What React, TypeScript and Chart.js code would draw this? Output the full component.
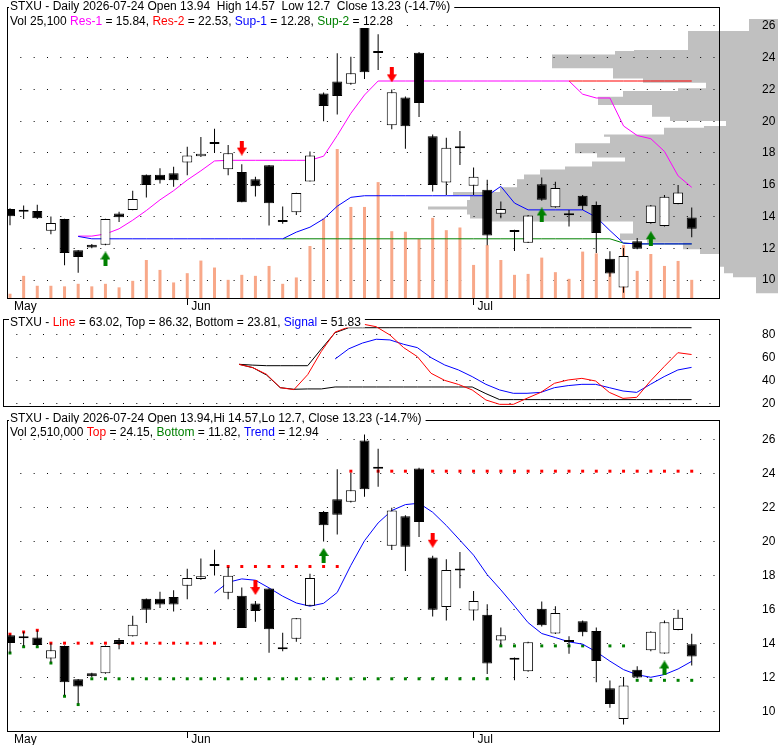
import React, { useEffect, useRef } from 'react';
import { Chart, registerables } from 'chart.js';

Chart.register(...registerables);

const FONT_FAMILY = '"Liberation Sans", Arial, Helvetica, sans-serif';
const CSS_FONT = '12px ' + FONT_FAMILY;

const symbol = 'STXU';
const lastDate = '2026-07-24';

// ---------- daily OHLC / volume (2026-05-12 .. 2026-07-24) ----------
const opens = [14.48, 14.36, 14.35, 13.10, 13.85, 11.88, 12.23, 12.23, 14.19, 14.42, 16.63, 16.63, 16.73, 17.40, 17.79, 18.62, 16.98, 16.81, 16.35, 17.23, 13.70, 14.27, 16.21, 21.75, 22.50, 22.35, 25.96, 24.36, 19.75, 21.50, 24.31, 19.06, 16.15, 18.36, 15.94, 15.69, 14.17, 13.08, 12.35, 16.04, 14.58, 14.12, 15.31, 14.73, 11.35, 9.54, 12.44, 13.60, 13.40, 14.79, 13.94];
const highs = [14.52, 14.69, 14.75, 14.00, 13.87, 11.90, 12.27, 13.87, 14.31, 15.63, 16.65, 17.04, 17.13, 18.40, 19.00, 19.52, 18.50, 17.29, 16.50, 17.25, 14.63, 15.50, 18.10, 21.80, 24.27, 24.06, 26.31, 25.48, 22.00, 21.55, 24.35, 19.17, 18.96, 19.38, 17.08, 16.31, 14.94, 13.17, 14.10, 16.46, 16.19, 14.42, 15.35, 14.94, 11.81, 12.02, 12.65, 14.72, 15.35, 15.98, 14.57];
const lows = [13.45, 13.85, 13.85, 12.88, 10.94, 10.46, 12.00, 12.20, 13.65, 14.40, 15.20, 16.08, 15.88, 16.60, 17.75, 18.00, 16.60, 14.90, 15.27, 13.44, 13.54, 14.10, 16.20, 20.00, 20.42, 22.30, 22.65, 23.23, 19.50, 18.27, 20.27, 15.58, 15.35, 17.25, 15.35, 12.19, 13.90, 11.83, 12.33, 15.00, 14.55, 13.38, 14.42, 11.71, 10.21, 9.21, 11.94, 13.54, 13.38, 14.77, 12.70];
const closes = [14.02, 14.30, 13.90, 13.60, 11.71, 11.46, 12.06, 13.85, 13.96, 15.10, 15.98, 16.29, 16.29, 17.85, 17.96, 18.56, 17.98, 14.90, 15.90, 14.83, 13.65, 15.48, 17.85, 20.96, 21.58, 23.02, 23.08, 24.30, 21.83, 19.69, 21.15, 15.98, 18.33, 18.30, 16.50, 12.81, 14.48, 13.03, 14.06, 15.06, 15.79, 14.08, 14.65, 12.96, 10.42, 11.52, 11.98, 14.69, 15.25, 15.51, 13.23];
const volumes = [5900, 30600, 16900, 16900, 16100, 19600, 16100, 19600, 14700, 23700, 52500, 38800, 21500, 34300, 51700, 42100, 25100, 32000, 30600, 44300, 19600, 28400, 71800, 109800, 205800, 125800, 125800, 160100, 92300, 91500, 81400, 110700, 93700, 97400, 45700, 73100, 52500, 32000, 33300, 55800, 35700, 26500, 64100, 61700, 39800, 73100, 37500, 60800, 44300, 51200, 25100];
const bottomHeaderVolume = 2510000;

// ---------- axes ----------
const monthStartIdx = [0, 13, 34];
const monthLabels = ['May', 'Jun', 'Jul'];
const priceTicks = [10, 12, 14, 16, 18, 20, 22, 24, 26];
const oscTicks = [20, 40, 60, 80];

// ---------- top panel: support / resistance ----------
const res1Start = 5;
const res1 = [
  12.77, 12.77, 12.9, 13.23, 13.77,
  14.38, 15.05, 15.63, 16.3, 16.88,
  17.5, 17.54, 17.54, 17.54, 17.54,
  17.54, 17.54, 17.54, 17.8, 19.1,
  20.5, 21.65, 22.53, 22.53, 22.53,
  22.53, 22.53, 22.53, 22.53, 22.53,
  22.53, 22.53, 22.53, 22.53, 22.53,
  22.53, 22.53, 21.7, 21.46, 21.46,
  19.7, 19.1, 18.9, 18.1, 16.56,
  15.84,
];
const res2Start = 41;
const res2 = [22.53, 22.53, 22.53, 22.53, 22.53, 22.53, 22.53, 22.53, 22.53, 22.53];
const sup1Start = 5;
const sup1 = [
  12.75, 12.6, 12.6, 12.6, 12.6,
  12.6, 12.6, 12.6, 12.6, 12.6,
  12.6, 12.6, 12.6, 12.6, 12.6,
  12.6, 13.02, 13.33, 13.85, 14.65,
  15.21, 15.31, 15.31, 15.31, 15.31,
  15.31, 15.31, 15.31, 15.31, 15.31,
  15.31, 15.9, 14.85, 14.42, 14.42,
  14.42, 14.42, 14.42, 13.96, 13.12,
  12.33, 12.28, 12.28, 12.28, 12.28,
  12.28,
];
const sup2Start = 20;
const sup2 = [
  12.6, 12.6, 12.6, 12.6, 12.6,
  12.6, 12.6, 12.6, 12.6, 12.6,
  12.6, 12.6, 12.6, 12.6, 12.6,
  12.6, 12.6, 12.6, 12.6, 12.6,
  12.6, 12.6, 12.6, 12.6, 12.6,
  12.33, 12.28, 12.28, 12.28, 12.28,
  12.28,
];
const priceBuyIdx = [7, 39, 47];
const priceBuyAt = [11.33, 14.1, 12.6];
const priceSellIdx = [17, 28];
const priceSellAt = [18.31, 22.92];

// volume-at-price profile (bin lower bound, volume in k)
const profileLow = [9.17, 10.17, 10.42, 10.83, 11.62, 11.92, 12.33, 12.5, 12.9, 13.65, 13.85, 14.1, 14.4, 14.6, 15.0, 15.3, 15.5, 15.8, 16.3, 16.6, 16.9, 17.1, 17.4, 17.65, 17.92, 18.54, 18.96, 19.1, 19.52, 19.625, 19.94, 20.21, 20.94, 21.46, 21.81, 21.98, 22.33, 22.6, 23.23, 24.1, 24.31, 24.375, 25.56];
const profileVol = [22, 45, 54, 58, 78, 95, 131, 158, 145, 288, 308, 311, 350, 311, 308, 325, 278, 261, 254, 238, 213, 186, 153, 181, 203, 168, 174, 114, 74, 52, 108, 126, 180, 155, 100, 72, 135, 165, 226, 163, 144, 90, 29];
const profileTop = 26.31;

// ---------- middle panel: oscillator ----------
const oscStart = 17;
const oscLine = [
  54.5, 51.6, 45.8, 34.2, 32.5,
  45.5, 65.8, 82.5, 87, 89.5,
  87.2, 80, 69, 61.2, 46.7,
  40.5, 37, 32.2, 23.5, 19.7,
  19.7, 25, 30.1, 38, 40.9,
  42.3, 40, 30.1, 24.9, 25.8,
  40, 52.5, 64.6, 63.02,
];
const oscTop = [
  54.5, 53.8, 53.3, 53.3, 53.3,
  53.3, 67.9, 82, 86.32, 86.32,
  86.32, 86.32, 86.32, 86.32, 86.32,
  86.32, 86.32, 86.32, 86.32, 86.32,
  86.32, 86.32, 86.32, 86.32, 86.32,
  86.32, 86.32, 86.32, 86.32, 86.32,
  86.32, 86.32, 86.32, 86.32,
];
const oscBottom = [
  54.5, 51.6, 45.2, 34.2, 32.8,
  33.1, 33.1, 34.8, 34.8, 34.8,
  34.8, 34.8, 34.8, 34.8, 34.8,
  34.8, 34.8, 34.8, 29, 23.81,
  23.81, 23.81, 23.81, 23.81, 23.81,
  23.81, 23.81, 23.81, 23.81, 23.81,
  23.81, 23.81, 23.81, 23.81,
];
const signalStart = 24;
const oscSignal = [
  59.1, 68, 73, 76.3, 75.7,
  71.9, 69, 60.3, 53.9, 49.6,
  43.8, 37.1, 32.2, 29.3, 29.3,
  30.1, 34.2, 36, 37.1, 37.1,
  34.2, 31.3, 30.1, 37.1, 43.8,
  49.6, 51.83,
];

// ---------- bottom panel: trend ----------
const trendTop = [
  14.54, 14.67, 14.77, 14.01, 14.01,
  14.01, 14.01, 14.01, 14.01, 14.01,
  14.01, 14.01, 14.01, 14.01, 14.01,
  14.01, 18.53, 18.53, 18.53, 18.53,
  18.53, 18.53, 18.53, 18.53, 18.53,
  24.15, 24.15, 24.15, 24.15, 24.15,
  24.15, 24.15, 24.15, 24.15, 24.15,
  24.15, 24.15, 24.15, 24.15, 24.15,
  24.15, 24.15, 24.15, 24.15, 24.15,
  24.15, 24.15, 24.15, 24.15, 24.15,
  24.15,
];
const trendBottom = [
  13.43, 13.8, 13.8, 12.84, 10.88,
  10.39, 11.91, 11.91, 11.91, 11.91,
  11.91, 11.91, 11.91, 11.91, 11.91,
  11.91, 11.91, 11.91, 11.91, 11.91,
  11.91, 11.91, 11.91, 11.91, 11.91,
  11.91, 11.91, 11.91, 11.91, 11.91,
  11.91, 11.91, 11.91, 11.91, 11.91,
  11.91, 13.85, 13.85, 13.85, 13.85,
  13.85, 13.85, 13.85, 13.85, 13.85,
  13.85, 11.82, 11.82, 11.82, 11.82,
  11.82,
];
const trendStart = 15;
const trendLine = [
  16.97, 17.6, 17.8, 17.72, 17.27,
  16.78, 16.38, 16.19, 16.36, 17.0,
  18.6, 20.05, 21.1, 21.83, 22.18,
  22.26, 21.73, 20.95, 20.08, 19.2,
  18.05, 17.15, 16.2, 15.22, 14.58,
  14.34, 14.09, 13.95, 13.5, 12.95,
  12.45, 12.15, 12.0, 12.16, 12.49,
  12.94,
];
const trendBuyIdx = [23, 48];
const trendBuyAt = [19.18, 12.55];
const trendSellIdx = [18, 31];
const trendSellAt = [17.29, 20.08];

// ---------- colours ----------
const MAGENTA = '#ff00ff';
const RED = '#ff0000';
const BLUE = '#0000ff';
const GREEN = '#008000';
const VOLCOLOR = '#f8a889';
const PROFILE = '#c0c0c0';

const X_MIN = -0.22;
const X_MAX = 52.0;

const last = (a: number[]) => a[a.length - 1];
const toPts = (start: number, vals: number[]) => vals.map((v, i) => ({ x: start + i, y: v }));
const f2 = (v: number) => v.toFixed(2);

function makeArrow(color: string, up: boolean) {
  const c = document.createElement('canvas');
  c.width = 10;
  c.height = 15;
  const g = c.getContext('2d') as CanvasRenderingContext2D;
  if (!up) {
    g.translate(0, 15);
    g.scale(1, -1);
  }
  g.fillStyle = color;
  g.beginPath();
  g.moveTo(0, 8);
  g.lineTo(5, 0);
  g.lineTo(10, 8);
  g.closePath();
  g.fill();
  g.fillRect(3, 8, 4, 7);
  return c;
}

type Seg = [string, string];
interface HeaderLine { x: number; baseline: number; boxTop: number; boxBottom: number; segs: Seg[] }

function frameHeaderPlugin(lines: HeaderLine[]) {
  return {
    id: 'frameHeader',
    afterDraw(chart: any) {
      const { ctx, chartArea: a } = chart;
      ctx.save();
      ctx.setLineDash([]);
      ctx.strokeStyle = '#000';
      ctx.lineWidth = 1;
      const l = Math.round(a.left), t = Math.round(a.top), r = Math.round(a.right), b = Math.round(a.bottom);
      ctx.strokeRect(l + 0.5, t + 0.5, r - l, b - t);
      ctx.font = CSS_FONT;
      ctx.textAlign = 'left';
      ctx.textBaseline = 'alphabetic';
      for (const ln of lines) {
        const w = ln.segs.reduce((s, [txt]) => s + ctx.measureText(txt).width, 0);
        ctx.fillStyle = '#fff';
        ctx.fillRect(ln.x - 1, ln.boxTop, w + 5, ln.boxBottom - ln.boxTop);
        let cx = ln.x;
        for (const [txt, col] of ln.segs) {
          ctx.fillStyle = col;
          ctx.fillText(txt, cx, ln.baseline);
          cx += ctx.measureText(txt).width;
        }
      }
      ctx.restore();
    },
  };
}

function xAxis(display: boolean, height: number) {
  return {
    type: 'linear',
    min: X_MIN,
    max: X_MAX,
    offset: false,
    display,
    afterBuildTicks: (s: any) => { s.ticks = monthStartIdx.map((v) => ({ value: v })); },
    afterFit: (s: any) => { s.height = height; s.paddingLeft = 0; s.paddingRight = 0; },
    grid: {
      display: true, offset: false, drawOnChartArea: false, drawTicks: true, tickLength: 7, tickWidth: 1,
      tickColor: (c: any) => (c.index === 0 ? 'rgba(0,0,0,0)' : '#000'),
    },
    border: { display: false },
    ticks: {
      autoSkip: false, maxRotation: 0, minRotation: 0, align: 'start', labelOffset: 4, padding: -6,
      color: '#000', font: { family: FONT_FAMILY, size: 12 },
      callback: (_v: any, i: number) => monthLabels[i],
    },
  };
}

function yAxis(min: number, max: number, ticks: number[]) {
  return {
    type: 'linear',
    position: 'right',
    min,
    max,
    afterBuildTicks: (s: any) => { s.ticks = ticks.map((v) => ({ value: v })); },
    afterFit: (s: any) => { s.width = 61; s.paddingTop = 0; s.paddingBottom = 0; },
    grid: { display: true, drawOnChartArea: true, drawTicks: false, color: '#000', lineWidth: 1 },
    border: { display: false, dash: [1, 12.33] },
    ticks: { padding: 43, color: '#000', font: { family: FONT_FAMILY, size: 12 }, callback: (v: any) => String(v) },
  };
}

function candleDatasets(orderBody: number) {
  return [
    {
      type: 'bar',
      data: opens.map((_o, i) => ({ x: i, y: [lows[i], highs[i]] })),
      backgroundColor: '#000',
      borderWidth: 0,
      barThickness: 1,
      grouped: false,
      inflateAmount: 0,
      order: orderBody + 1,
      yAxisID: 'y',
    },
    {
      type: 'bar',
      data: opens.map((o, i) => ({ x: i, y: [Math.min(o, closes[i]), Math.max(o, closes[i])] })),
      backgroundColor: opens.map((o, i) => (closes[i] >= o ? '#fff' : '#000')),
      borderColor: '#000',
      borderWidth: 1,
      borderSkipped: false,
      barThickness: 10,
      minBarLength: 2,
      grouped: false,
      inflateAmount: 0,
      order: orderBody,
      yAxisID: 'y',
    },
  ];
}

function lineDs(start: number, vals: number[], color: string, order: number) {
  return {
    type: 'line',
    data: toPts(start, vals),
    borderColor: color,
    borderWidth: 1,
    pointRadius: 0,
    fill: false,
    tension: 0,
    order,
    yAxisID: 'y',
  };
}

function arrowDs(idx: number[], at: number[], img: HTMLCanvasElement, order: number) {
  return {
    type: 'line',
    data: idx.map((v, i) => ({ x: v, y: at[i] })),
    showLine: false,
    pointStyle: img,
    pointRadius: 6,
    order,
    yAxisID: 'y',
  };
}

function dotDs(vals: number[], color: string, order: number) {
  return {
    type: 'line',
    data: toPts(0, vals),
    showLine: false,
    pointStyle: 'rect',
    pointRadius: 2.1,
    pointBorderWidth: 0,
    pointBackgroundColor: color,
    pointBorderColor: color,
    order,
    yAxisID: 'y',
  };
}

const baseOptions = {
  responsive: false,
  maintainAspectRatio: false,
  animation: false,
  events: [],
  plugins: { legend: { display: false }, tooltip: { enabled: false }, title: { display: false } },
};

export default function App() {
  const profileRef = useRef<HTMLCanvasElement>(null);
  const topRef = useRef<HTMLCanvasElement>(null);
  const midRef = useRef<HTMLCanvasElement>(null);
  const botRef = useRef<HTMLCanvasElement>(null);

  useEffect(() => {
    Chart.defaults.font.family = FONT_FAMILY;
    Chart.defaults.font.size = 12;
    Chart.defaults.color = '#000';

    const upGreen = makeArrow(GREEN, true);
    const downRed = makeArrow(RED, false);
    const charts: Chart[] = [];

    const n = closes.length;
    const o = opens[n - 1], h = highs[n - 1], l = lows[n - 1], c = closes[n - 1];
    const pct = (((c - closes[n - 2]) / closes[n - 2]) * 100).toFixed(1);

    // ---- volume profile (behind the price panel) ----
    const profilePts: { x: number; y: number }[] = [{ x: 0, y: profileLow[0] }];
    profileLow.forEach((p, i) => {
      const top = i + 1 < profileLow.length ? profileLow[i + 1] : profileTop;
      profilePts.push({ x: profileVol[i], y: p }, { x: profileVol[i], y: top });
    });
    profilePts.push({ x: 0, y: profileTop });

    charts.push(new Chart(profileRef.current as HTMLCanvasElement, {
      type: 'line',
      data: {
        datasets: [{
          data: profilePts,
          fill: 'shape',
          backgroundColor: PROFILE,
          borderColor: 'rgba(0,0,0,0)',
          borderWidth: 0,
          pointRadius: 0,
          tension: 0,
        }],
      },
      options: {
        ...baseOptions,
        layout: { padding: { left: 0, right: 2, top: 5, bottom: 17 } },
        scales: {
          x: { type: 'linear', reverse: true, min: 0, max: 778, display: false },
          y: { type: 'linear', min: 8.875, max: 27.1875, display: false },
        },
      },
    } as any));

    // ---- top price panel ----
    charts.push(new Chart(topRef.current as HTMLCanvasElement, {
      type: 'bar',
      data: {
        datasets: [
          arrowDs(priceBuyIdx, priceBuyAt, upGreen, 0),
          arrowDs(priceSellIdx, priceSellAt, downRed, 0),
          ...candleDatasets(1),
          lineDs(sup1Start, sup1, BLUE, 4),
          lineDs(sup2Start, sup2, GREEN, 5),
          lineDs(res2Start, res2, RED, 6),
          lineDs(res1Start, res1, MAGENTA, 7),
          {
            type: 'bar',
            data: volumes.map((v, i) => ({ x: i, y: v })),
            backgroundColor: VOLCOLOR,
            borderWidth: 0,
            barThickness: 3,
            grouped: false,
            inflateAmount: 0,
            order: 20,
            yAxisID: 'yv',
          },
        ],
      },
      options: {
        ...baseOptions,
        layout: { padding: { left: 3, top: 5, right: 0, bottom: 0 } },
        scales: {
          x: xAxis(true, 17),
          y: yAxis(8.875, 27.1875, priceTicks),
          yv: { type: 'linear', display: false, min: 0, max: 402000 },
        },
      },
      plugins: [frameHeaderPlugin([
        {
          x: 10, baseline: 10, boxTop: 0, boxBottom: 13,
          segs: [[`${symbol} - Daily ${lastDate} Open ${o}  High ${h}  Low ${l}  Close ${c} (${pct}%)`, '#000']],
        },
        {
          x: 10, baseline: 24.5, boxTop: 13, boxBottom: 28,
          segs: [
            [`Vol ${last(volumes).toLocaleString('en-US')} `, '#000'],
            ['Res-1', MAGENTA], [` = ${f2(last(res1))}, `, '#000'],
            ['Res-2', RED], [` = ${f2(last(res2))}, `, '#000'],
            ['Sup-1', BLUE], [` = ${f2(last(sup1))}, `, '#000'],
            ['Sup-2', GREEN], [` = ${f2(last(sup2))}`, '#000'],
          ],
        },
      ])],
    } as any));

    // ---- middle oscillator panel ----
    charts.push(new Chart(midRef.current as HTMLCanvasElement, {
      type: 'line',
      data: {
        datasets: [
          lineDs(oscStart, oscLine, RED, 1),
          lineDs(signalStart, oscSignal, BLUE, 2),
          lineDs(oscStart, oscTop, '#000', 3),
          lineDs(oscStart, oscBottom, '#000', 3),
        ],
      },
      options: {
        ...baseOptions,
        layout: { padding: { left: 3, top: 6, right: 0, bottom: 7 } },
        scales: {
          x: xAxis(false, 0),
          y: yAxis(18.26, 93.9, oscTicks),
        },
      },
      plugins: [frameHeaderPlugin([
        {
          x: 10, baseline: 12.5, boxTop: 1, boxBottom: 14.5,
          segs: [
            [`${symbol} - `, '#000'], ['Line', RED],
            [` = ${f2(last(oscLine))}, Top = ${f2(last(oscTop))}, Bottom = ${f2(last(oscBottom))}, `, '#000'],
            ['Signal', BLUE], [` = ${f2(last(oscSignal))}`, '#000'],
          ],
        },
      ])],
    } as any));

    // ---- bottom trend panel ----
    charts.push(new Chart(botRef.current as HTMLCanvasElement, {
      type: 'bar',
      data: {
        datasets: [
          arrowDs(trendBuyIdx, trendBuyAt, upGreen, 0),
          arrowDs(trendSellIdx, trendSellAt, downRed, 0),
          ...candleDatasets(1),
          lineDs(trendStart, trendLine, BLUE, 4),
          dotDs(trendTop, RED, 5),
          dotDs(trendBottom, GREEN, 5),
        ],
      },
      options: {
        ...baseOptions,
        layout: { padding: { left: 3, top: 4, right: 0, bottom: 0 } },
        scales: {
          x: xAxis(true, 14),
          y: yAxis(8.832, 27.168, priceTicks),
        },
      },
      plugins: [frameHeaderPlugin([
        {
          x: 10, baseline: 8.5, boxTop: 0, boxBottom: 10.5,
          segs: [[`${symbol} - Daily ${lastDate} Open ${o},Hi ${h},Lo ${l}, Close ${c} (${pct}%)`, '#000']],
        },
        {
          x: 10, baseline: 22.7, boxTop: 10.5, boxBottom: 23.8,
          segs: [
            [`Vol ${bottomHeaderVolume.toLocaleString('en-US')} `, '#000'],
            ['Top', RED], [` = ${f2(last(trendTop))}, `, '#000'],
            ['Bottom', GREEN], [` = ${f2(last(trendBottom))}, `, '#000'],
            ['Trend', BLUE], [` = ${f2(last(trendLine))}`, '#000'],
          ],
        },
      ])],
    } as any));

    return () => { charts.forEach((ch) => ch.destroy()); };
  }, []);

  const abs = (top: number, h: number): React.CSSProperties => ({
    position: 'absolute', left: 0, top, width: 780, height: h, display: 'block',
  });

  return (
    <div style={{ position: 'absolute', left: 0, top: 0, width: 780, height: 745, background: '#fff', overflow: 'hidden' }}>
      <canvas ref={profileRef} width={780} height={315} style={abs(0, 315)} />
      <canvas ref={topRef} width={780} height={315} style={abs(0, 315)} />
      <canvas ref={midRef} width={780} height={100} style={abs(313, 100)} />
      <canvas ref={botRef} width={780} height={332} style={abs(413, 332)} />
    </div>
  );
}
